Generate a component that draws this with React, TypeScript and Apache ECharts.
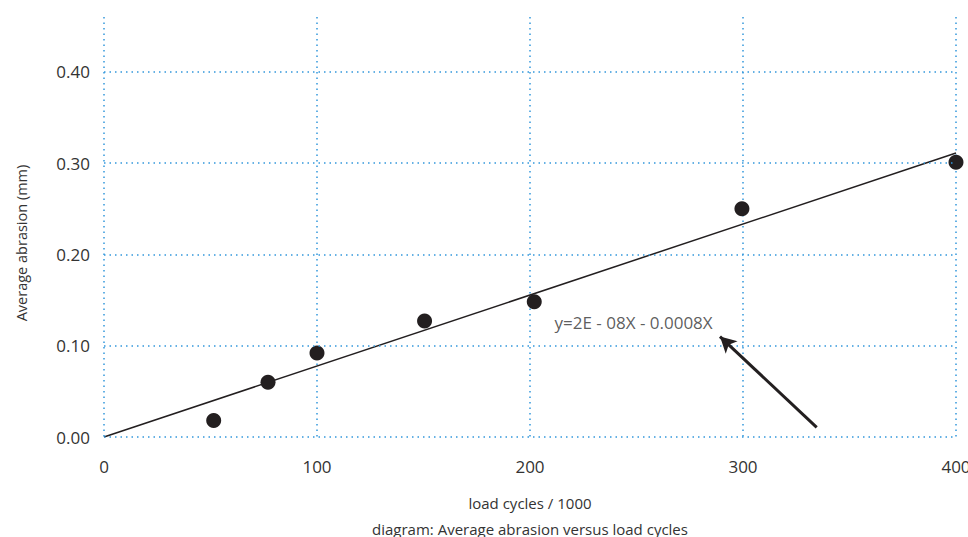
import React, { useEffect, useRef } from "react";
import * as echarts from "echarts";

const loadCycles = [51.5, 77, 100, 150.5, 202, 299.5, 400];
const abrasion = [0.018, 0.06, 0.092, 0.127, 0.148, 0.25, 0.301];
const trendX = [0, 400];
const trendY = [0, 0.311];
const yTicks = [0, 0.1, 0.2, 0.3, 0.4];
const xTicks = [0, 100, 200, 300, 400];
const equationText = "y=2E - 08X - 0.0008X";
const equationAt = [211.5, 0.125];
const arrowFrom = [334.6, 0.0106];
const arrowTo = [289.2, 0.11];

const FONT = "Open Sans";
const TEXT = "#333333";
const GRID = "#3398dc";
const INK = "#231f20";

export default function App() {
  const ref = useRef<HTMLDivElement>(null);
  useEffect(() => {
    if (!ref.current) return;
    const chart = echarts.init(ref.current, undefined, { renderer: "svg" });
    const gridLine = { color: GRID, width: 1.5, type: [1.5, 4] as any };
    chart.setOption({
      animation: false,
      textStyle: { fontFamily: FONT },
      grid: {
        left: 104,
        right: 12,
        top: 17,
        bottom: 100,
        containLabel: false,
        outerBoundsMode: "none",
      },
      xAxis: {
        type: "value",
        min: xTicks[0],
        max: xTicks[xTicks.length - 1],
        interval: 100,
        name: "load cycles / 1000",
        nameLocation: "middle",
        nameGap: 58,
        nameTextStyle: { color: TEXT, fontSize: 15, fontFamily: FONT },
        axisLine: { show: false },
        axisTick: { show: false },
        axisLabel: { color: TEXT, fontSize: 17, margin: 21, fontFamily: FONT },
        splitLine: { show: true, lineStyle: gridLine },
      },
      yAxis: {
        type: "value",
        min: 0,
        max: 0.46,
        interval: 0.1,
        axisLine: { show: false },
        axisTick: { show: false },
        splitLine: { show: false },
        axisLabel: {
          color: TEXT,
          fontSize: 17,
          margin: 14,
          fontFamily: FONT,
          formatter: (v: number) =>
            yTicks.some((t) => Math.abs(t - v) < 1e-6) ? v.toFixed(2) : "",
        },
      },
      graphic: [
        {
          type: "text",
          x: 21,
          y: 243,
          rotation: Math.PI / 2,
          style: {
            text: "Average abrasion (mm)",
            fill: TEXT,
            font: `14.5px "${FONT}"`,
            align: "center",
            verticalAlign: "middle",
          },
        },
        {
          type: "text",
          x: 530,
          y: 529,
          style: {
            text: "diagram: Average abrasion versus load cycles",
            fill: TEXT,
            font: `15px "${FONT}"`,
            align: "center",
            verticalAlign: "middle",
          },
        },
      ],
      series: [
        {
          type: "line",
          data: [],
          silent: true,
          markLine: {
            silent: true,
            symbol: ["none", "none"],
            label: { show: false },
            lineStyle: gridLine,
            data: yTicks.map((v) => ({ yAxis: v })),
          },
        },
        {
          type: "line",
          data: trendX.map((x, i) => [x, trendY[i]]),
          symbol: "none",
          lineStyle: { color: INK, width: 1.5 },
          z: 3,
        },
        {
          type: "scatter",
          data: loadCycles.map((x, i) => [x, abrasion[i]]),
          symbolSize: 15,
          itemStyle: { color: INK, opacity: 1 },
          z: 4,
        },
        {
          type: "scatter",
          data: [equationAt],
          symbolSize: 0,
          label: {
            show: true,
            position: "right",
            distance: 0,
            formatter: equationText,
            color: TEXT,
            fontSize: 17,
            fontFamily: FONT,
          },
          markLine: {
            silent: true,
            symbol: ["none", "arrow"],
            symbolSize: [13, 16],
            label: { show: false },
            lineStyle: { color: INK, width: 3, type: "solid" },
            data: [[{ coord: arrowFrom }, { coord: arrowTo }]],
          },
        },
      ],
    });
    return () => chart.dispose();
  }, []);
  return (
    <div
      ref={ref}
      style={{ position: "fixed", left: 0, top: 0, width: 968, height: 537, background: "#fff" }}
    />
  );
}
